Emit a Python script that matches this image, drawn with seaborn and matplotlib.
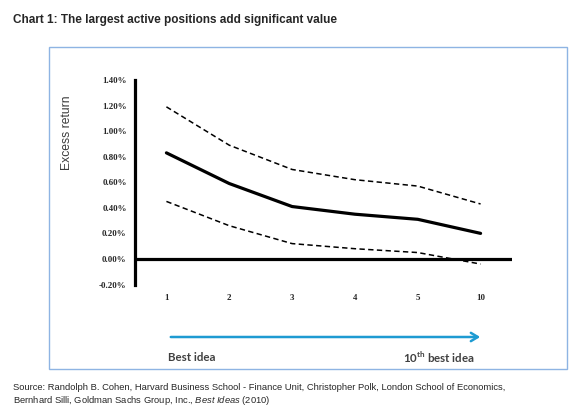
import numpy as np
import pandas as pd
import matplotlib
matplotlib.use('Agg')
import matplotlib.pyplot as plt
from matplotlib.patches import Rectangle, FancyArrowPatch
import seaborn as sns

# data (excess return, %)
ranks = ['1', '2', '3', '4', '5', '10']
mean_ret = [0.83, 0.59, 0.41, 0.35, 0.31, 0.20]
upper_ret = [1.19, 0.89, 0.70, 0.62, 0.57, 0.43]
lower_ret = [0.45, 0.26, 0.12, 0.08, 0.05, -0.04]
yticks = [-0.2, 0.0, 0.2, 0.4, 0.6, 0.8, 1.0, 1.2, 1.4]

sns.set_style('white')
plt.rcParams['font.family'] = ['Liberation Sans', 'DejaVu Sans']
plt.rcParams['mathtext.fontset'] = 'custom'
plt.rcParams['mathtext.rm'] = 'Liberation Sans'
plt.rcParams['mathtext.it'] = 'Liberation Sans:italic'
plt.rcParams['mathtext.bf'] = 'Lato:bold'

W, H = 580, 415
fig = plt.figure(figsize=(W / 100, H / 100), dpi=100)

def fx(px):
    return px / W

def fy(py):
    return 1 - py / H

# axes area in pixels: x 135..512, y 80..284.5
ax = fig.add_axes([fx(135), fy(284.5), fx(512 - 135), (284.5 - 80) / H])

df = pd.DataFrame({
    'pos': np.arange(len(ranks)),
    'mean': mean_ret,
    'upper': upper_ret,
    'lower': lower_ret,
})

sns.lineplot(data=df, x='pos', y='mean', ax=ax, color='black', lw=2.3)
sns.lineplot(data=df, x='pos', y='upper', ax=ax, color='black', lw=1.1,
             linestyle=(0, (3.5, 2.2)))
sns.lineplot(data=df, x='pos', y='lower', ax=ax, color='black', lw=1.1,
             linestyle=(0, (3.5, 2.2)))
ax.axhline(0, color='black', lw=2.3, zorder=1)

ax.set_xlim(-0.5, 5.5)
ax.set_ylim(-0.2, 1.4)
ax.set_xticks(df['pos'])
ax.set_xticklabels(ranks)
ax.set_yticks(yticks)
ax.set_yticklabels([f'{v:.2f}%' for v in yticks])
for lab in ax.get_xticklabels() + ax.get_yticklabels():
    lab.set_fontfamily('Liberation Serif')
    lab.set_fontweight('bold')
    lab.set_fontsize(6.4)
ax.tick_params(axis='both', length=0)
ax.tick_params(axis='y', pad=6)
ax.tick_params(axis='x', pad=7)
ax.set_xlabel('')
ax.set_ylabel('')
for s in ['top', 'right', 'bottom']:
    ax.spines[s].set_visible(False)
ax.spines['left'].set_linewidth(2.3)
ax.spines['left'].set_color('black')

fig.text(fx(67), fy(133), 'Excess return', rotation=90, ha='center',
         va='center', fontsize=8.7, color='#3a3a3a')

# title and frame
fig.text(fx(13), fy(20), 'Chart 1: The largest active positions add significant value',
         fontsize=8.5, fontweight='bold', ha='left', va='center')
fig.add_artist(Rectangle((fx(49), fy(369)), fx(567 - 49), (369 - 47) / H,
                         transform=fig.transFigure, fill=False,
                         edgecolor='#8EB4E3', lw=1.0))

# arrow and labels
fig.add_artist(FancyArrowPatch((fx(168), fy(337)), (fx(483), fy(337)),
                               transform=fig.transFigure,
                               arrowstyle='->,head_length=5,head_width=3',
                               color='#1E9BD2', lw=1.8))
fig.text(fx(168), fy(357), 'Best idea', fontsize=8.3, fontweight='bold',
         family='Lato', color='#404040', ha='left', va='center')
fig.text(fx(475), fy(357), r'10$^{\mathbf{th}}$ best idea', fontsize=8.3,
         fontweight='bold', family='Lato', color='#404040', ha='right', va='center')

# source
fig.text(fx(13), fy(387), 'Source: Randolph B. Cohen, Harvard Business School - Finance Unit, '
         'Christopher Polk, London School of Economics,', fontsize=6.72,
         ha='left', va='center')
fig.text(fx(13), fy(400), r'Bernhard Silli, Goldman Sachs Group, Inc., $\it{Best\ Ideas\ (}$2010)',
         fontsize=6.72, ha='left', va='center')

fig.savefig('out.png', dpi=100)
